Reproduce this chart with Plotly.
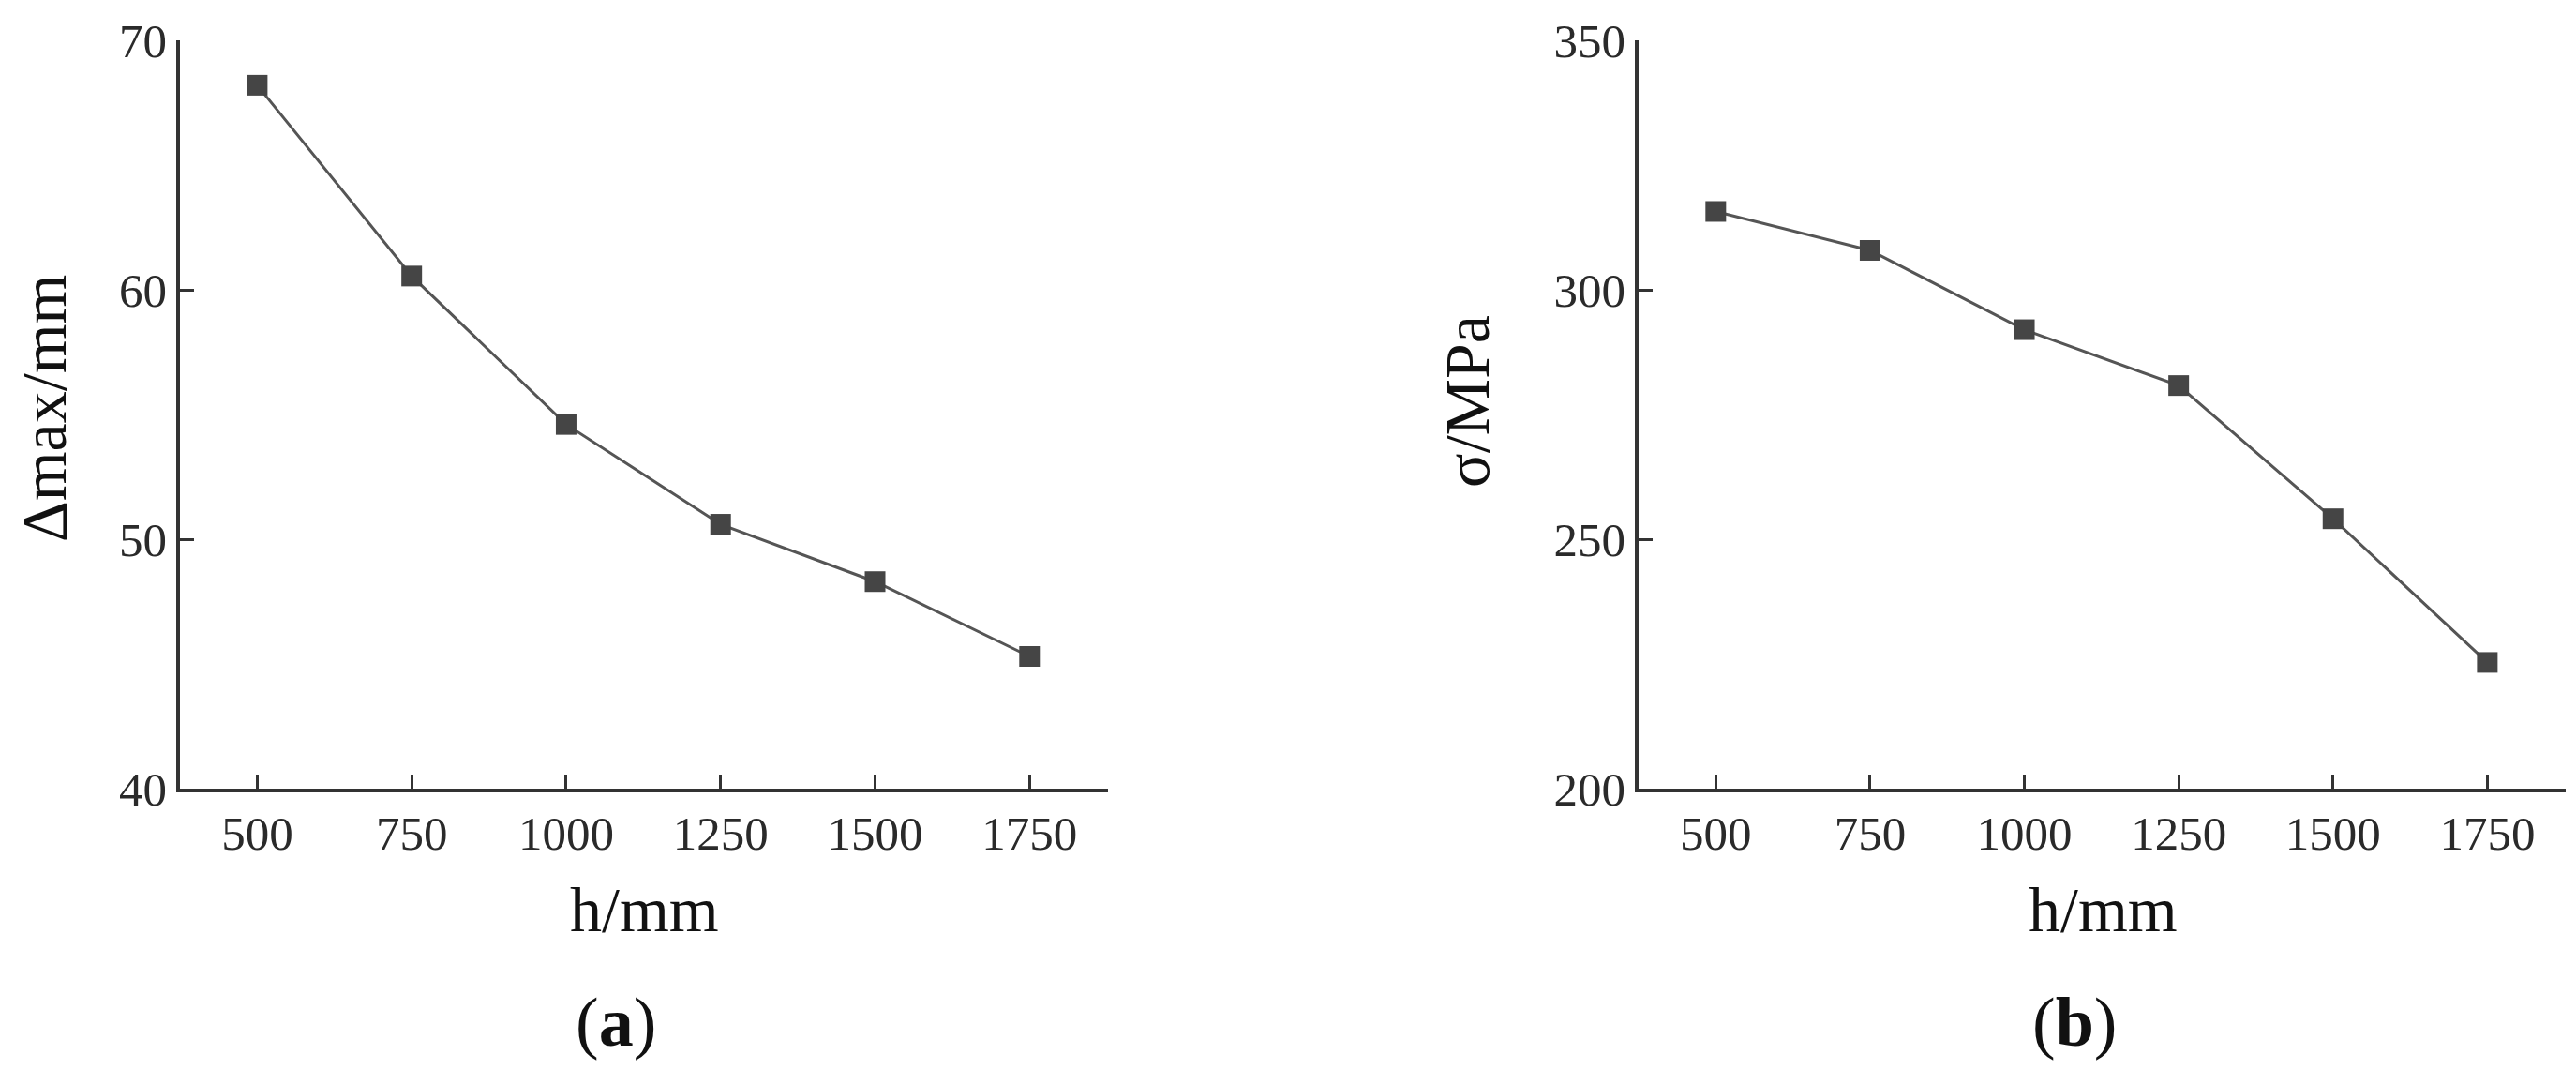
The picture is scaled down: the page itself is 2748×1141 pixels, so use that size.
import plotly.graph_objects as go

# Data
h_mm = [500, 750, 1000, 1250, 1500, 1750]
delta_max = [68.2, 60.55, 54.6, 50.6, 48.3, 45.3]
sigma = [315.7, 307.9, 292.0, 280.8, 254.1, 225.3]

x_ticks = [500, 750, 1000, 1250, 1500, 1750]
y_ticks_a = [40, 50, 60, 70]
y_ticks_b = [200, 250, 300, 350]

W, H = 2748, 1141
FONT = "Liberation Serif"
AXC = "#333333"
LINEC = "#555555"
MARKC = "#454545"

fig = go.Figure()
fig.add_trace(go.Scatter(x=h_mm, y=delta_max, mode="lines+markers",
                         line=dict(color=LINEC, width=3),
                         marker=dict(symbol="square", size=22, color=MARKC),
                         xaxis="x", yaxis="y", showlegend=False))
fig.add_trace(go.Scatter(x=h_mm, y=sigma, mode="lines+markers",
                         line=dict(color=LINEC, width=3),
                         marker=dict(symbol="square", size=22, color=MARKC),
                         xaxis="x2", yaxis="y2", showlegend=False))

ydom = [1 - 841 / H, 1 - 43 / H]
tickfont = dict(family=FONT, size=51, color="#2a2a2a")
common_x = dict(range=[375, 1877], tickvals=x_ticks, ticks="inside", ticklen=15,
                tickwidth=3, tickcolor=AXC, showline=True, linecolor=AXC, linewidth=3.5,
                showgrid=False, zeroline=False, automargin=False, tickfont=tickfont)
common_y = dict(ticks="inside", ticklen=15, tickwidth=3, tickcolor=AXC,
                showline=True, linecolor=AXC, linewidth=3.5,
                showgrid=False, zeroline=False, automargin=False, tickfont=tickfont)

fig.update_layout(
    width=W, height=H, autosize=False,
    margin=dict(l=0, r=0, t=0, b=0, pad=0, autoexpand=False),
    paper_bgcolor="white", plot_bgcolor="white",
    xaxis=dict(domain=[192 / W, 1182 / W], anchor="y", **common_x),
    yaxis=dict(domain=ydom, anchor="x", range=[40, 70], tickvals=y_ticks_a, **common_y),
    xaxis2=dict(domain=[1748 / W, 2737 / W], anchor="y2", **common_x),
    yaxis2=dict(domain=ydom, anchor="x2", range=[200, 350], tickvals=y_ticks_b, **common_y),
)

title_font = dict(family=FONT, size=68, color="#111111")
ann = [
    dict(text="Δmax/mm", x=47 / W, y=1 - 436 / H, textangle=-90),
    dict(text="σ/MPa", x=1565 / W, y=1 - 428 / H, textangle=-90),
    dict(text="h/mm", x=687 / W, y=1 - 970 / H, textangle=0),
    dict(text="h/mm", x=2243 / W, y=1 - 970 / H, textangle=0),
]
for a in ann:
    fig.add_annotation(xref="paper", yref="paper", showarrow=False,
                       xanchor="center", yanchor="middle", font=title_font, **a)

cap_font = dict(family=FONT, size=74, color="#111111")
fig.add_annotation(text="(<b>a</b>)", x=657 / W, y=1 - 1090 / H, xref="paper", yref="paper",
                   showarrow=False, xanchor="center", yanchor="middle", font=cap_font)
fig.add_annotation(text="(<b>b</b>)", x=2213 / W, y=1 - 1090 / H, xref="paper", yref="paper",
                   showarrow=False, xanchor="center", yanchor="middle", font=cap_font)

fig.write_html("out.html", config={"displayModeBar": False},
               post_script="document.body.style.margin='0';document.body.style.overflow='hidden';")
